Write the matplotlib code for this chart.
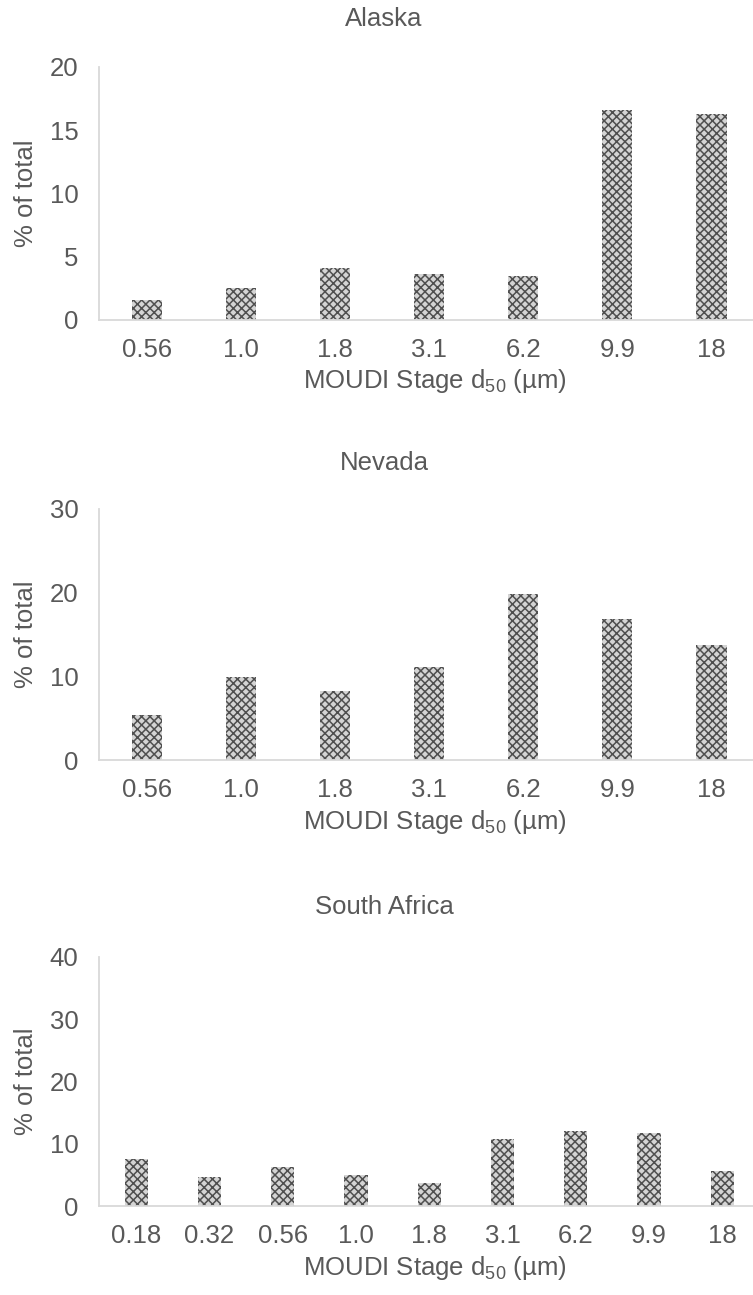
import matplotlib

matplotlib.use("Agg")
import matplotlib.pyplot as plt

plt.rcParams["font.family"] = ["Liberation Sans", "DejaVu Sans"]
plt.rcParams["mathtext.default"] = "regular"
plt.rcParams["hatch.linewidth"] = 1.1

TEXT = "#595959"
AXIS = "#d9d9d9"
BAR = "#d4d4d4"
HATCH = "#4f4f4f"
FS = 18.5

# Data
alaska_stages = ["0.56", "1.0", "1.8", "3.1", "6.2", "9.9", "18"]
alaska_pct = [1.6, 2.5, 4.1, 3.6, 3.5, 16.6, 16.3]

nevada_stages = ["0.56", "1.0", "1.8", "3.1", "6.2", "9.9", "18"]
nevada_pct = [5.4, 9.9, 8.3, 11.1, 19.9, 16.8, 13.8]

safrica_stages = ["0.18", "0.32", "0.56", "1.0", "1.8", "3.1", "6.2", "9.9", "18"]
safrica_pct = [7.5, 4.6, 6.2, 4.9, 3.7, 10.7, 12.0, 11.7, 5.6]

W, H = 753, 1295
# title, labels, values, ymax, step, axes top/bottom (px), title y, xlabel y (px)
panels = [
    ("Alaska", alaska_stages, alaska_pct, 20, 5, 67, 320, 19, 381),
    ("Nevada", nevada_stages, nevada_pct, 30, 10, 509, 760, 463, 822),
    ("South Africa", safrica_stages, safrica_pct, 40, 10, 957, 1206, 907, 1268),
]

fig = plt.figure(figsize=(W / 100, H / 100), dpi=100)
x0, x1 = 98.5, 760

for title, stages, pct, ymax, ystep, top, bottom, title_y, xlab_y in panels:
    h = bottom - top
    ax = fig.add_axes([x0 / W, 1 - bottom / H, (x1 - x0) / W, h / H])
    xs = range(len(stages))
    ax.bar(xs, pct, width=0.32, color=BAR, edgecolor=HATCH, hatch="xxxx", linewidth=0)
    ax.set_xlim(-0.515, len(stages) - 1 + 0.515)
    ax.set_ylim(0, ymax)
    ax.set_yticks(range(0, ymax + 1, ystep))
    ax.set_xticks(list(xs))
    ax.set_xticklabels(stages)
    ax.tick_params(length=0, labelsize=FS, colors=TEXT)
    ax.tick_params(axis="x", pad=13)
    ax.tick_params(axis="y", pad=14.5)
    for side in ("top", "right"):
        ax.spines[side].set_visible(False)
    for side in ("left", "bottom"):
        ax.spines[side].set_color(AXIS)
        ax.spines[side].set_linewidth(1.3)
    ax.set_ylabel("% of total", fontsize=FS, color=TEXT, va="center")
    ax.yaxis.set_label_coords((26 - x0) / (x1 - x0), 0.5)
    ax.set_xlabel("MOUDI Stage d$_{50}$ (µm)", fontsize=FS, color=TEXT, va="center")
    ax.xaxis.set_label_coords((435 - x0) / (x1 - x0), (bottom - xlab_y) / h)
    fig.text(384 / W, 1 - title_y / H, title, ha="center", va="center",
             fontsize=FS, color=TEXT)

fig.savefig("out.png", dpi=100, facecolor="white")
